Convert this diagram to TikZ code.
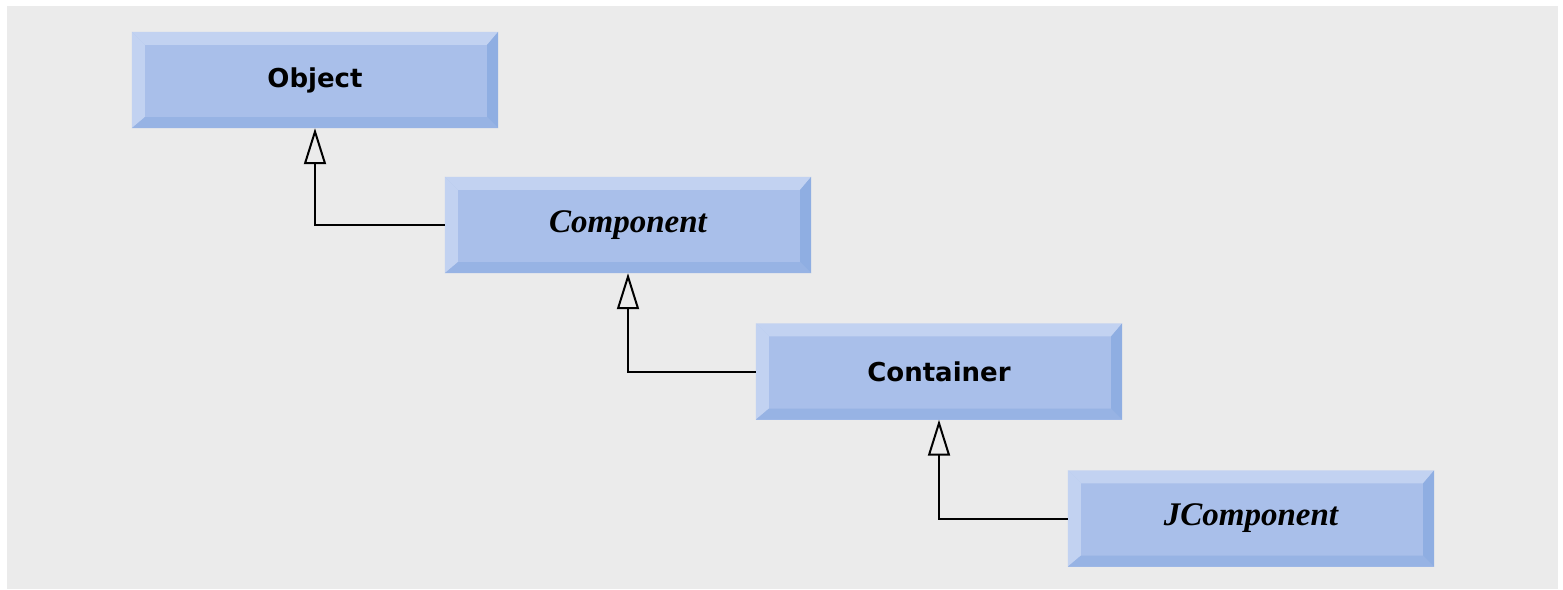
\documentclass[tikz,border=0pt]{standalone}
\usepackage{fontspec}
\setmainfont{DejaVu Sans}
\newfontfamily\clsitfont{Liberation Serif}
\usetikzlibrary{arrows.meta,calc}
\definecolor{pagebg}{HTML}{EBEBEB}
\definecolor{boxmid}{HTML}{A9BFEA}
\definecolor{boxlight}{HTML}{C2D2F1}
\definecolor{boxdark}{HTML}{8FAEE2}
\definecolor{boxbot}{HTML}{97B3E4}
\tikzset{
  cls/.style={minimum width=366pt,minimum height=96pt,inner sep=0pt,fill=boxmid,draw=none,text=black,
    font=\bfseries\fontsize{26pt}{30pt}\selectfont},
  clsit/.style={cls,font=\clsitfont\bfseries\itshape\fontsize{33pt}{36pt}\selectfont},
  inh/.style={draw=black,line width=2pt,-{Triangle[open,length=36pt,width=22pt,line width=2pt]}}
}
\newcommand\bevelbox[1]{%
  \fill[boxlight] (#1.north west) -- (#1.north east) -- ($(#1.north east)+(-11pt,-13pt)$) -- ($(#1.north west)+(13pt,-13pt)$) -- cycle;
  \fill[boxlight] (#1.north west) -- ($(#1.north west)+(13pt,-13pt)$) -- ($(#1.south west)+(13pt,11pt)$) -- (#1.south west) -- cycle;
  \fill[boxbot] (#1.south west) -- (#1.south east) -- ($(#1.south east)+(-11pt,11pt)$) -- ($(#1.south west)+(13pt,11pt)$) -- cycle;
  \fill[boxdark] (#1.north east) -- (#1.south east) -- ($(#1.south east)+(-11pt,11pt)$) -- ($(#1.north east)+(-11pt,-13pt)$) -- cycle;
}
\begin{document}
\begin{tikzpicture}[x=1pt,y=-1pt]
  \useasboundingbox (0,0) rectangle (1563,589);
  \fill[white] (0,0) rectangle (1563,589);
  \fill[pagebg] (7,6) rectangle (1558,589);
  \node[cls] (obj) at (315,80) {Object};
  \node[clsit] (comp) at (628,225) {Component};
  \node[cls] (cont) at (939,371.5) {Container};
  \node[clsit] (jcomp) at (1251,518.5) {JComponent};
  \bevelbox{obj}\bevelbox{comp}\bevelbox{cont}\bevelbox{jcomp}
  \draw[inh] (comp.west) -| (obj.south);
  \draw[inh] (cont.west) -| (comp.south);
  \draw[inh] (jcomp.west) -| (cont.south);
\end{tikzpicture}
\end{document}
